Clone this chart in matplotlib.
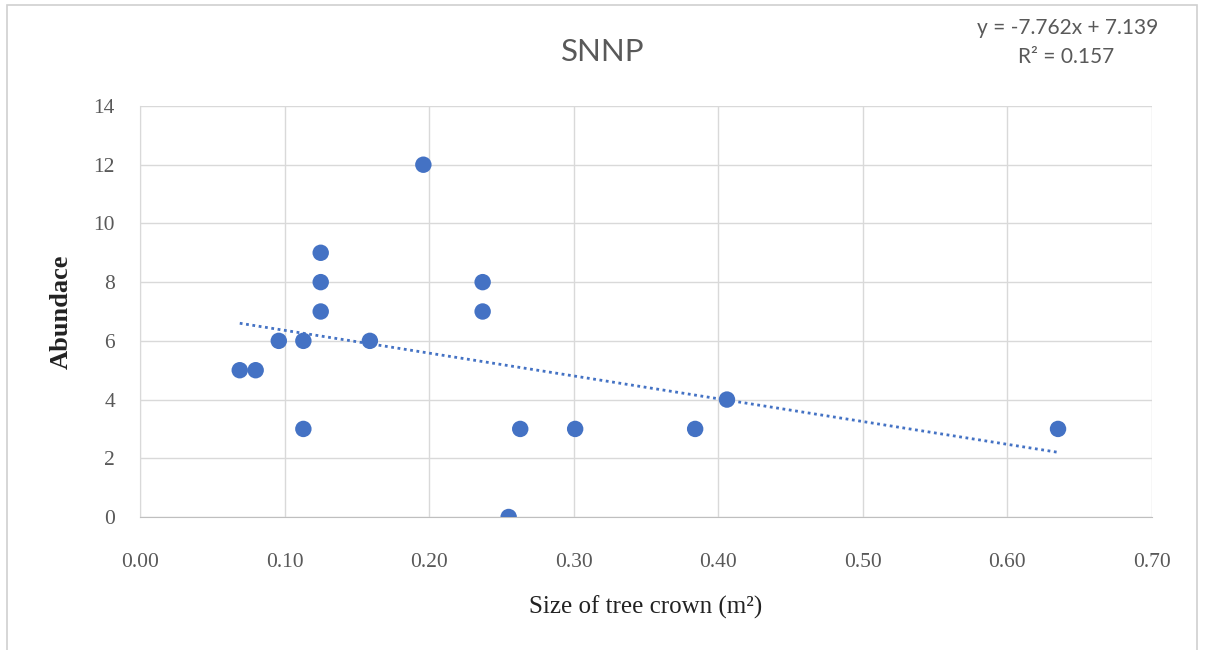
import matplotlib
matplotlib.use("Agg")
import matplotlib.pyplot as plt
from matplotlib.patches import Rectangle
import numpy as np

crown_size = [0.069, 0.080, 0.096, 0.113, 0.113, 0.125, 0.125, 0.125, 0.159, 0.196,
              0.237, 0.237, 0.255, 0.263, 0.301, 0.384, 0.406, 0.635]
abundance = [5, 5, 6, 6, 3, 9, 8, 7, 6, 12, 8, 7, 0, 3, 3, 3, 4, 3]
x_ticks = [0.0, 0.1, 0.2, 0.3, 0.4, 0.5, 0.6, 0.7]
y_ticks = [0, 2, 4, 6, 8, 10, 12, 14]
title = "SNNP"
equation = "y = -7.762x + 7.139"
r2_text = "R² = 0.157"

blue = "#4472C4"
grid_c = "#D9D9D9"
text_c = "#595959"

fig = plt.figure(figsize=(12.08, 6.5), dpi=100)
fig.patch.set_facecolor("white")
fig.patches.append(Rectangle((7/1208, -0.01), (1197-7)/1208, 1.0 - 5/650 + 0.01,
                             transform=fig.transFigure, fill=False,
                             edgecolor="#D0D0D0", linewidth=1.2))

ax = fig.add_axes([140/1208, 1 - 517/650, (1152-140)/1208, (517-106)/650])
ax.set_xlim(0, 0.7)
ax.set_ylim(0, 14)
ax.set_xticks(x_ticks)
ax.set_yticks(y_ticks)
ax.set_xticklabels([f"{v:.2f}" for v in x_ticks])
ax.set_yticklabels([str(v) for v in y_ticks])
ax.grid(True, color=grid_c, linewidth=1.0)
ax.set_axisbelow(True)
for s in ["top", "right"]:
    ax.spines[s].set_visible(False)
ax.spines["left"].set_color(grid_c)
ax.spines["bottom"].set_color("#BFBFBF")
ax.tick_params(length=0, colors=text_c, labelsize=15.5)
ax.tick_params(axis="x", pad=26)
ax.tick_params(axis="y", pad=18)
for lab in ax.get_xticklabels() + ax.get_yticklabels():
    lab.set_fontfamily("Liberation Serif")

ax.scatter(crown_size, abundance, s=140, color=blue, zorder=3, edgecolors="none")

xs = np.array(crown_size)
slope, intercept = np.polyfit(xs, np.array(abundance, dtype=float), 1)
xl = np.array([xs.min(), xs.max()])
ax.plot(xl, slope * xl + intercept, linestyle=(0, (1, 1.3)), color=blue,
        linewidth=2.0, zorder=2)

ax.set_xlabel("Size of tree crown (m²)", fontfamily="Liberation Serif",
              fontsize=18, color="#222222", labelpad=17)
ax.set_ylabel("Abundace", fontfamily="Liberation Serif", fontsize=19,
              fontweight="bold", color="#222222", labelpad=15)

fig.text(603/1208, 1 - 52/650, title, ha="center", va="center",
         fontfamily="Lato", fontsize=22.5, color=text_c)
fig.text(1068/1208, 1 - 28/650, equation, ha="center", va="center",
         fontfamily="Lato", fontsize=15, color=text_c)
fig.text(1066/1208, 1 - 57/650, r2_text, ha="center", va="center",
         fontfamily="Lato", fontsize=15, color=text_c)

fig.savefig("out.png", dpi=100, facecolor="white")
